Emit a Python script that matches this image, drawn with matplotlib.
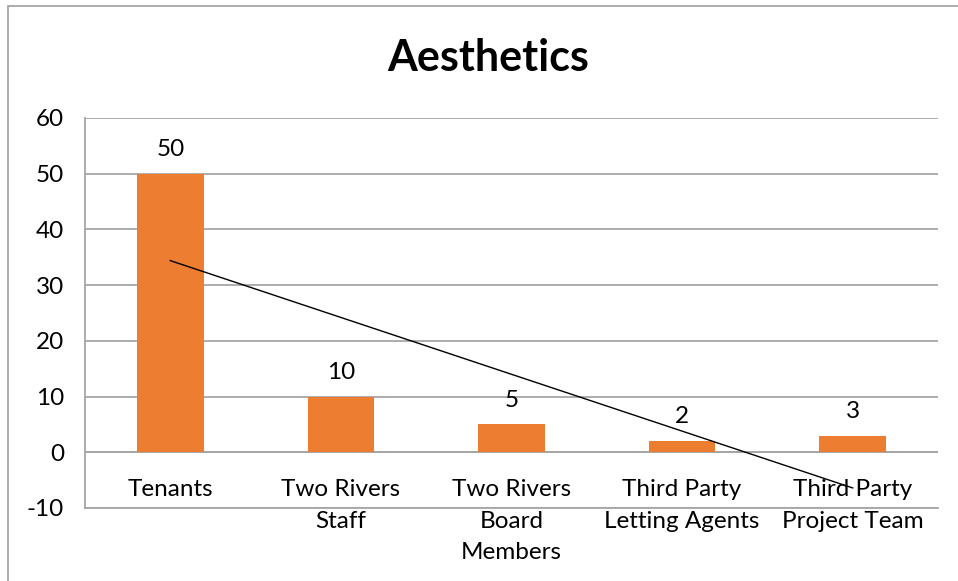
import numpy as np
import matplotlib
matplotlib.use("Agg")
import matplotlib.pyplot as plt
from matplotlib.patches import Rectangle

categories = ["Tenants", "Two Rivers\nStaff", "Two Rivers\nBoard\nMembers",
              "Third Party\nLetting Agents", "Third Party\nProject Team"]
values = [50, 10, 5, 2, 3]
y_ticks = [-10, 0, 10, 20, 30, 40, 50, 60]

plt.rcParams["font.family"] = ["Lato", "DejaVu Sans"]

W, H = 958, 581
fig = plt.figure(figsize=(W / 100, H / 100), dpi=100)

# chart-area border (runs off the right and bottom edges)
fig.patches.append(Rectangle((7.5 / W, -0.05), 1.0, 1.05 - 6 / H,
                             transform=fig.transFigure, fill=False,
                             edgecolor="#a6a6a6", linewidth=1.3))

left, right, top, bottom = 85, 938, 118, 508
ax = fig.add_axes([left / W, 1 - bottom / H, (right - left) / W, (bottom - top) / H])

x = np.arange(len(values))
ax.bar(x, values, width=0.39, color="#ED7D31", zorder=3)

# linear trendline
coef = np.polyfit(x, values, 1)
ax.plot(x, np.polyval(coef, x), color="black", linewidth=1.0, zorder=4)

for xi, v in zip(x, values):
    ax.annotate(str(v), (xi, v), xytext=(0, 10), textcoords="offset points",
                ha="center", va="bottom", fontsize=17.5, color="black")

ax.set_xlim(-0.5, len(values) - 0.5)
ax.set_ylim(-10, 60)
ax.set_yticks(y_ticks)
ax.set_yticklabels([str(t) for t in y_ticks], fontsize=17.5)
ax.yaxis.grid(True, color="#a6a6a6", linewidth=1.3, zorder=0)
ax.axhline(-10, color="#a6a6a6", linewidth=1.3, zorder=0, clip_on=False)
ax.tick_params(axis="y", length=0, pad=15)

ax.set_xticks([])
for xi, label in zip(x, categories):
    ax.text(xi, -4.8, label, ha="center", va="top", fontsize=17.5,
            linespacing=1.63, zorder=5)

for s in ["top", "right", "bottom"]:
    ax.spines[s].set_visible(False)
ax.spines["left"].set_color("#a6a6a6")
ax.spines["left"].set_linewidth(1.3)
ax.axhline(0, color="#a6a6a6", linewidth=1.3, zorder=2)

fig.text(488 / W, 1 - 58 / H, "Aesthetics", ha="center", va="center",
         fontsize=31, fontweight="bold")

fig.savefig("out.png", dpi=100)
